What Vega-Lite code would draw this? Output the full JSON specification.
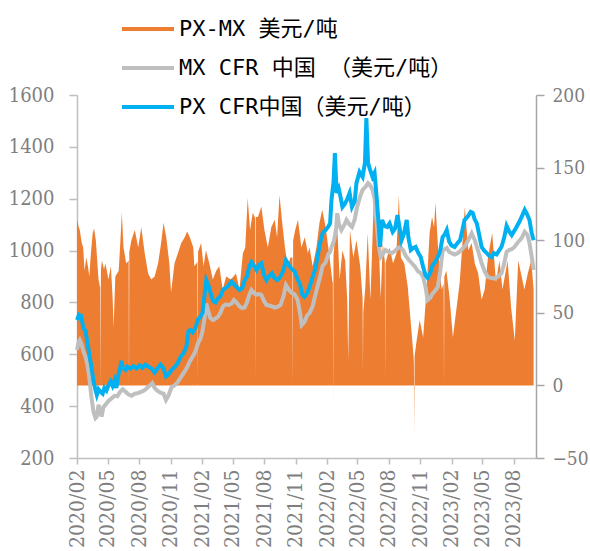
{
"$schema": "https://vega.github.io/schema/vega-lite/v6.json",
"width": 459, "height": 363,
"autosize": {"type": "none"},
"padding": {"left": 77, "top": 95, "right": 54, "bottom": 93},
"background": "white",
"config": {"view": {"stroke": null}, "axis": {"grid": false, "labelFont": "DejaVu Serif Condensed, DejaVu Serif", "labelColor": "#7f7f7f", "domainColor": "#bfbfbf", "tickColor": "#bfbfbf", "domainWidth": 1.5, "tickWidth": 1.5, "labelOverlap": false}},
"datasets": {
"spread": [
{"d":"2020-02-01","v":114},{"d":"2020-02-05","v":110},{"d":"2020-02-09","v":107},{"d":"2020-02-15","v":98},{"d":"2020-02-19","v":95},{"d":"2020-02-23","v":79},{"d":"2020-02-28","v":88},{"d":"2020-03-04","v":82},{"d":"2020-03-08","v":75},{"d":"2020-03-13","v":92},{"d":"2020-03-18","v":105},{"d":"2020-03-22","v":108},{"d":"2020-03-27","v":100},{"d":"2020-04-04","v":73},{"d":"2020-04-08","v":68},{"d":"2020-04-09","v":68},{"d":"2020-04-10","v":0},{"d":"2020-04-11","v":80},{"d":"2020-04-14","v":86},{"d":"2020-04-20","v":80},{"d":"2020-04-24","v":84},{"d":"2020-05-03","v":73},{"d":"2020-05-10","v":82},{"d":"2020-05-15","v":61},{"d":"2020-05-18","v":40},{"d":"2020-05-23","v":75},{"d":"2020-06-02","v":79},{"d":"2020-06-07","v":100},{"d":"2020-06-11","v":119},{"d":"2020-06-16","v":95},{"d":"2020-06-24","v":84},{"d":"2020-07-01","v":86},{"d":"2020-07-02","v":0},{"d":"2020-07-03","v":92},{"d":"2020-07-09","v":100},{"d":"2020-07-19","v":107},{"d":"2020-07-29","v":95},{"d":"2020-08-07","v":109},{"d":"2020-08-17","v":91},{"d":"2020-08-27","v":77},{"d":"2020-09-05","v":73},{"d":"2020-09-15","v":75},{"d":"2020-09-25","v":84},{"d":"2020-10-04","v":98},{"d":"2020-10-11","v":112},{"d":"2020-10-19","v":102},{"d":"2020-10-28","v":84},{"d":"2020-11-02","v":64},{"d":"2020-11-12","v":84},{"d":"2020-11-22","v":91},{"d":"2020-12-02","v":98},{"d":"2020-12-12","v":102},{"d":"2020-12-19","v":106},{"d":"2020-12-27","v":102},
{"d":"2021-01-06","v":95},{"d":"2021-01-09","v":82},{"d":"2021-01-18","v":85},{"d":"2021-01-19","v":0},{"d":"2021-01-20","v":92},{"d":"2021-01-29","v":98},{"d":"2021-02-05","v":82},{"d":"2021-02-12","v":93},{"d":"2021-02-22","v":84},{"d":"2021-03-04","v":73},{"d":"2021-03-14","v":79},{"d":"2021-03-23","v":82},{"d":"2021-04-02","v":66},{"d":"2021-04-12","v":75},{"d":"2021-04-26","v":73},{"d":"2021-05-11","v":77},{"d":"2021-05-21","v":66},{"d":"2021-05-31","v":91},{"d":"2021-06-07","v":95},{"d":"2021-06-14","v":129},{"d":"2021-06-21","v":107},{"d":"2021-06-29","v":119},{"d":"2021-07-06","v":115},{"d":"2021-07-07","v":0},{"d":"2021-07-08","v":116},{"d":"2021-07-14","v":116},{"d":"2021-07-24","v":123},{"d":"2021-08-02","v":107},{"d":"2021-08-12","v":95},{"d":"2021-08-22","v":109},{"d":"2021-09-01","v":114},{"d":"2021-09-08","v":102},{"d":"2021-09-15","v":131},{"d":"2021-09-23","v":112},{"d":"2021-10-01","v":95},{"d":"2021-10-09","v":82},{"d":"2021-10-17","v":88},{"d":"2021-10-23","v":88},{"d":"2021-10-24","v":0},{"d":"2021-10-25","v":100},{"d":"2021-10-31","v":107},{"d":"2021-11-08","v":114},{"d":"2021-11-18","v":95},{"d":"2021-11-28","v":102},{"d":"2021-12-07","v":91},{"d":"2021-12-12","v":95},{"d":"2021-12-21","v":82},
{"d":"2022-01-01","v":95},{"d":"2022-01-10","v":112},{"d":"2022-01-18","v":121},{"d":"2022-01-28","v":109},{"d":"2022-02-07","v":91},{"d":"2022-02-17","v":71},{"d":"2022-02-18","v":71},{"d":"2022-02-19","v":-10},{"d":"2022-02-20","v":90},{"d":"2022-02-24","v":100},{"d":"2022-03-03","v":109},{"d":"2022-03-10","v":73},{"d":"2022-03-18","v":93},{"d":"2022-03-26","v":86},{"d":"2022-04-01","v":59},{"d":"2022-04-04","v":17},{"d":"2022-04-09","v":107},{"d":"2022-04-19","v":88},{"d":"2022-04-28","v":100},{"d":"2022-05-09","v":82},{"d":"2022-05-16","v":60},{"d":"2022-05-17","v":9},{"d":"2022-05-18","v":50},{"d":"2022-05-24","v":68},{"d":"2022-05-31","v":105},{"d":"2022-06-08","v":59},{"d":"2022-06-18","v":130},{"d":"2022-06-25","v":112},{"d":"2022-07-04","v":86},{"d":"2022-07-08","v":60},{"d":"2022-07-14","v":98},{"d":"2022-07-20","v":85},{"d":"2022-07-21","v":4},{"d":"2022-07-22","v":84},{"d":"2022-08-03","v":95},{"d":"2022-08-13","v":84},{"d":"2022-08-23","v":91},{"d":"2022-08-30","v":131},{"d":"2022-09-05","v":88},{"d":"2022-09-15","v":84},{"d":"2022-09-25","v":68},{"d":"2022-10-05","v":40},{"d":"2022-10-12","v":20},{"d":"2022-10-13","v":15},{"d":"2022-10-14","v":-33},{"d":"2022-10-15","v":20},{"d":"2022-10-21","v":31},{"d":"2022-10-30","v":45},{"d":"2022-11-09","v":33},{"d":"2022-11-19","v":66},{"d":"2022-11-28","v":105},{"d":"2022-12-05","v":116},{"d":"2022-12-11","v":109},{"d":"2022-12-15","v":126},{"d":"2022-12-23","v":93},
{"d":"2023-01-02","v":66},{"d":"2023-01-08","v":70},{"d":"2023-01-09","v":0},{"d":"2023-01-10","v":75},{"d":"2023-01-16","v":79},{"d":"2023-01-25","v":61},{"d":"2023-02-04","v":33},{"d":"2023-02-14","v":52},{"d":"2023-02-24","v":71},{"d":"2023-03-06","v":105},{"d":"2023-03-11","v":123},{"d":"2023-03-21","v":93},{"d":"2023-03-31","v":98},{"d":"2023-04-09","v":84},{"d":"2023-04-19","v":77},{"d":"2023-04-29","v":59},{"d":"2023-05-08","v":66},{"d":"2023-05-18","v":89},{"d":"2023-05-30","v":105},{"d":"2023-06-10","v":71},{"d":"2023-06-20","v":86},{"d":"2023-06-29","v":66},{"d":"2023-07-14","v":86},{"d":"2023-07-24","v":54},{"d":"2023-08-04","v":31},{"d":"2023-08-14","v":86},{"d":"2023-08-24","v":75},{"d":"2023-09-01","v":66},{"d":"2023-09-11","v":77},{"d":"2023-09-21","v":86},{"d":"2023-09-28","v":66}
],
"mx": [
{"d":"2020-02-01","v":617},{"d":"2020-02-05","v":645},{"d":"2020-02-09","v":655},{"d":"2020-02-14","v":640},{"d":"2020-02-20","v":610},{"d":"2020-02-26","v":590},{"d":"2020-03-03","v":555},{"d":"2020-03-08","v":510},{"d":"2020-03-14","v":437},{"d":"2020-03-20","v":380},{"d":"2020-03-26","v":354},{"d":"2020-03-30","v":360},{"d":"2020-04-04","v":405},{"d":"2020-04-08","v":385},{"d":"2020-04-13","v":360},{"d":"2020-04-18","v":395},{"d":"2020-04-24","v":405},{"d":"2020-05-03","v":420},{"d":"2020-05-12","v":430},{"d":"2020-05-21","v":440},{"d":"2020-05-29","v":438},{"d":"2020-06-06","v":455},{"d":"2020-06-14","v":465},{"d":"2020-06-22","v":455},{"d":"2020-07-01","v":445},{"d":"2020-07-10","v":440},{"d":"2020-07-19","v":448},{"d":"2020-07-28","v":450},{"d":"2020-08-06","v":455},{"d":"2020-08-15","v":460},{"d":"2020-08-24","v":470},{"d":"2020-09-01","v":480},{"d":"2020-09-08","v":489},{"d":"2020-09-15","v":470},{"d":"2020-09-23","v":460},{"d":"2020-10-02","v":452},{"d":"2020-10-11","v":448},{"d":"2020-10-18","v":424},{"d":"2020-10-25","v":440},{"d":"2020-11-04","v":474},{"d":"2020-11-12","v":480},{"d":"2020-11-21","v":492},{"d":"2020-11-30","v":510},{"d":"2020-12-09","v":528},{"d":"2020-12-17","v":545},{"d":"2020-12-26","v":570},
{"d":"2021-01-04","v":590},{"d":"2021-01-12","v":610},{"d":"2021-01-20","v":643},{"d":"2021-01-27","v":660},{"d":"2021-02-02","v":690},{"d":"2021-02-08","v":740},{"d":"2021-02-13","v":796},{"d":"2021-02-18","v":770},{"d":"2021-02-25","v":740},{"d":"2021-03-05","v":732},{"d":"2021-03-12","v":738},{"d":"2021-03-19","v":744},{"d":"2021-03-27","v":762},{"d":"2021-04-03","v":785},{"d":"2021-04-10","v":792},{"d":"2021-04-19","v":790},{"d":"2021-04-28","v":795},{"d":"2021-05-05","v":809},{"d":"2021-05-12","v":800},{"d":"2021-05-21","v":785},{"d":"2021-05-29","v":778},{"d":"2021-06-05","v":780},{"d":"2021-06-12","v":800},{"d":"2021-06-19","v":830},{"d":"2021-06-25","v":848},{"d":"2021-07-03","v":835},{"d":"2021-07-10","v":830},{"d":"2021-07-17","v":832},{"d":"2021-07-24","v":829},{"d":"2021-08-01","v":805},{"d":"2021-08-08","v":790},{"d":"2021-08-15","v":788},{"d":"2021-08-24","v":785},{"d":"2021-08-31","v":780},{"d":"2021-09-09","v":783},{"d":"2021-09-18","v":790},{"d":"2021-09-27","v":825},{"d":"2021-10-04","v":867},{"d":"2021-10-12","v":850},{"d":"2021-10-20","v":838},{"d":"2021-10-29","v":832},{"d":"2021-11-07","v":810},{"d":"2021-11-14","v":760},{"d":"2021-11-19","v":713},{"d":"2021-11-27","v":725},{"d":"2021-12-05","v":750},{"d":"2021-12-12","v":759},{"d":"2021-12-21","v":785},{"d":"2021-12-29","v":830},
{"d":"2022-01-04","v":860},{"d":"2022-01-12","v":900},{"d":"2022-01-19","v":940},{"d":"2022-01-28","v":955},{"d":"2022-02-04","v":985},{"d":"2022-02-10","v":995},{"d":"2022-02-16","v":1020},{"d":"2022-02-22","v":1040},{"d":"2022-02-28","v":1090},{"d":"2022-03-03","v":1144},{"d":"2022-03-08","v":1100},{"d":"2022-03-15","v":1079},{"d":"2022-03-24","v":1100},{"d":"2022-03-30","v":1118},{"d":"2022-04-08","v":1100},{"d":"2022-04-15","v":1091},{"d":"2022-04-23","v":1120},{"d":"2022-04-30","v":1168},{"d":"2022-05-08","v":1205},{"d":"2022-05-16","v":1234},{"d":"2022-05-24","v":1245},{"d":"2022-06-01","v":1260},{"d":"2022-06-08","v":1250},{"d":"2022-06-14","v":1234},{"d":"2022-06-20","v":1200},{"d":"2022-06-26","v":1105},{"d":"2022-07-02","v":1020},{"d":"2022-07-08","v":975},{"d":"2022-07-14","v":985},{"d":"2022-07-22","v":1002},{"d":"2022-07-31","v":995},{"d":"2022-08-09","v":990},{"d":"2022-08-18","v":998},{"d":"2022-08-26","v":1008},{"d":"2022-09-04","v":1014},{"d":"2022-09-12","v":1000},{"d":"2022-09-20","v":978},{"d":"2022-09-28","v":965},{"d":"2022-10-07","v":951},{"d":"2022-10-15","v":940},{"d":"2022-10-25","v":920},{"d":"2022-11-02","v":913},{"d":"2022-11-09","v":898},{"d":"2022-11-16","v":860},{"d":"2022-11-22","v":809},{"d":"2022-11-30","v":818},{"d":"2022-12-07","v":835},{"d":"2022-12-14","v":845},{"d":"2022-12-22","v":860},{"d":"2022-12-29","v":920},
{"d":"2023-01-05","v":1000},{"d":"2023-01-11","v":1005},{"d":"2023-01-17","v":1010},{"d":"2023-01-24","v":995},{"d":"2023-01-31","v":990},{"d":"2023-02-09","v":985},{"d":"2023-02-18","v":990},{"d":"2023-02-27","v":1000},{"d":"2023-03-06","v":1010},{"d":"2023-03-13","v":1020},{"d":"2023-03-21","v":1040},{"d":"2023-03-31","v":1067},{"d":"2023-04-09","v":1040},{"d":"2023-04-15","v":1014},{"d":"2023-04-22","v":985},{"d":"2023-04-29","v":951},{"d":"2023-05-08","v":920},{"d":"2023-05-17","v":898},{"d":"2023-05-28","v":894},{"d":"2023-06-06","v":892},{"d":"2023-06-17","v":900},{"d":"2023-06-26","v":913},{"d":"2023-07-04","v":950},{"d":"2023-07-11","v":995},{"d":"2023-07-18","v":1002},{"d":"2023-07-26","v":1005},{"d":"2023-08-03","v":1014},{"d":"2023-08-12","v":1030},{"d":"2023-08-24","v":1048},{"d":"2023-09-02","v":1072},{"d":"2023-09-10","v":1060},{"d":"2023-09-16","v":1029},{"d":"2023-09-22","v":980},{"d":"2023-09-28","v":925}
],
"px": [
{"d":"2020-02-01","v":732},{"d":"2020-02-07","v":752},{"d":"2020-02-13","v":748},{"d":"2020-02-20","v":700},{"d":"2020-02-26","v":690},{"d":"2020-03-03","v":640},{"d":"2020-03-08","v":600},{"d":"2020-03-14","v":552},{"d":"2020-03-20","v":500},{"d":"2020-03-26","v":462},{"d":"2020-03-30","v":443},{"d":"2020-04-04","v":465},{"d":"2020-04-10","v":455},{"d":"2020-04-16","v":448},{"d":"2020-04-21","v":470},{"d":"2020-04-27","v":460},{"d":"2020-05-03","v":480},{"d":"2020-05-09","v":495},{"d":"2020-05-15","v":478},{"d":"2020-05-21","v":500},{"d":"2020-05-26","v":470},{"d":"2020-06-01","v":520},{"d":"2020-06-06","v":545},{"d":"2020-06-10","v":575},{"d":"2020-06-14","v":548},{"d":"2020-06-22","v":540},{"d":"2020-06-27","v":552},{"d":"2020-07-06","v":545},{"d":"2020-07-15","v":555},{"d":"2020-07-24","v":546},{"d":"2020-08-02","v":558},{"d":"2020-08-10","v":548},{"d":"2020-08-19","v":560},{"d":"2020-08-28","v":552},{"d":"2020-09-06","v":545},{"d":"2020-09-15","v":530},{"d":"2020-09-23","v":545},{"d":"2020-10-02","v":560},{"d":"2020-10-11","v":545},{"d":"2020-10-18","v":515},{"d":"2020-10-25","v":522},{"d":"2020-11-04","v":540},{"d":"2020-11-12","v":550},{"d":"2020-11-21","v":565},{"d":"2020-11-30","v":590},{"d":"2020-12-09","v":605},{"d":"2020-12-17","v":630},{"d":"2020-12-23","v":690},{"d":"2020-12-29","v":694},
{"d":"2021-01-04","v":685},{"d":"2021-01-12","v":700},{"d":"2021-01-20","v":735},{"d":"2021-01-27","v":745},{"d":"2021-02-02","v":760},{"d":"2021-02-08","v":830},{"d":"2021-02-13","v":886},{"d":"2021-02-18","v":870},{"d":"2021-02-25","v":840},{"d":"2021-03-05","v":805},{"d":"2021-03-12","v":800},{"d":"2021-03-19","v":815},{"d":"2021-03-27","v":825},{"d":"2021-04-03","v":850},{"d":"2021-04-10","v":855},{"d":"2021-04-19","v":865},{"d":"2021-04-28","v":880},{"d":"2021-05-05","v":870},{"d":"2021-05-12","v":860},{"d":"2021-05-21","v":848},{"d":"2021-05-29","v":855},{"d":"2021-06-05","v":885},{"d":"2021-06-12","v":900},{"d":"2021-06-19","v":940},{"d":"2021-06-25","v":956},{"d":"2021-07-03","v":940},{"d":"2021-07-10","v":925},{"d":"2021-07-17","v":945},{"d":"2021-07-24","v":951},{"d":"2021-08-01","v":905},{"d":"2021-08-08","v":886},{"d":"2021-08-15","v":900},{"d":"2021-08-24","v":912},{"d":"2021-08-31","v":895},{"d":"2021-09-09","v":886},{"d":"2021-09-18","v":900},{"d":"2021-09-27","v":925},{"d":"2021-10-04","v":963},{"d":"2021-10-12","v":945},{"d":"2021-10-20","v":930},{"d":"2021-10-29","v":920},{"d":"2021-11-07","v":890},{"d":"2021-11-14","v":870},{"d":"2021-11-21","v":830},{"d":"2021-11-27","v":822},{"d":"2021-12-05","v":835},{"d":"2021-12-12","v":860},{"d":"2021-12-21","v":898},{"d":"2021-12-29","v":930},
{"d":"2022-01-04","v":975},{"d":"2022-01-12","v":1030},{"d":"2022-01-19","v":1067},{"d":"2022-01-28","v":1080},{"d":"2022-02-04","v":1091},{"d":"2022-02-10","v":1105},{"d":"2022-02-14","v":1195},{"d":"2022-02-20","v":1264},{"d":"2022-02-24","v":1376},{"d":"2022-03-01","v":1222},{"d":"2022-03-07","v":1240},{"d":"2022-03-12","v":1210},{"d":"2022-03-18","v":1168},{"d":"2022-03-25","v":1180},{"d":"2022-03-31","v":1195},{"d":"2022-04-08","v":1222},{"d":"2022-04-15","v":1168},{"d":"2022-04-23","v":1190},{"d":"2022-04-28","v":1260},{"d":"2022-05-07","v":1303},{"d":"2022-05-16","v":1284},{"d":"2022-05-23","v":1340},{"d":"2022-05-27","v":1511},{"d":"2022-06-01","v":1337},{"d":"2022-06-07","v":1311},{"d":"2022-06-14","v":1284},{"d":"2022-06-20","v":1300},{"d":"2022-06-26","v":1207},{"d":"2022-07-02","v":1100},{"d":"2022-07-06","v":1014},{"d":"2022-07-12","v":1118},{"d":"2022-07-19","v":1095},{"d":"2022-07-27","v":1091},{"d":"2022-08-03","v":1105},{"d":"2022-08-12","v":1072},{"d":"2022-08-19","v":1085},{"d":"2022-08-26","v":1137},{"d":"2022-09-01","v":1090},{"d":"2022-09-07","v":1040},{"d":"2022-09-14","v":1065},{"d":"2022-09-22","v":1118},{"d":"2022-09-27","v":1050},{"d":"2022-10-04","v":1002},{"d":"2022-10-11","v":1010},{"d":"2022-10-18","v":1014},{"d":"2022-10-26","v":990},{"d":"2022-11-02","v":975},{"d":"2022-11-09","v":937},{"d":"2022-11-16","v":905},{"d":"2022-11-22","v":895},{"d":"2022-11-30","v":915},{"d":"2022-12-07","v":944},{"d":"2022-12-14","v":955},{"d":"2022-12-22","v":975},{"d":"2022-12-29","v":1000},
{"d":"2023-01-05","v":1052},{"d":"2023-01-11","v":1062},{"d":"2023-01-17","v":1079},{"d":"2023-01-24","v":1035},{"d":"2023-01-31","v":1020},{"d":"2023-02-09","v":1014},{"d":"2023-02-18","v":1030},{"d":"2023-02-25","v":1040},{"d":"2023-03-04","v":1080},{"d":"2023-03-10","v":1118},{"d":"2023-03-19","v":1130},{"d":"2023-03-28","v":1149},{"d":"2023-04-03","v":1145},{"d":"2023-04-09","v":1120},{"d":"2023-04-15","v":1105},{"d":"2023-04-22","v":1060},{"d":"2023-04-29","v":1014},{"d":"2023-05-06","v":1000},{"d":"2023-05-14","v":990},{"d":"2023-05-21","v":980},{"d":"2023-05-28","v":975},{"d":"2023-06-04","v":990},{"d":"2023-06-12","v":985},{"d":"2023-06-19","v":1000},{"d":"2023-06-26","v":1014},{"d":"2023-07-04","v":1050},{"d":"2023-07-11","v":1095},{"d":"2023-07-18","v":1075},{"d":"2023-07-26","v":1060},{"d":"2023-08-02","v":1075},{"d":"2023-08-09","v":1091},{"d":"2023-08-17","v":1110},{"d":"2023-08-24","v":1130},{"d":"2023-09-02","v":1157},{"d":"2023-09-09","v":1140},{"d":"2023-09-16","v":1118},{"d":"2023-09-22","v":1070},{"d":"2023-09-28","v":1040}
]
},
"encoding": {
"x": {"field": "d", "type": "temporal",
"scale": {"type": "utc", "domain": [{"year":2020,"month":2,"date":1,"utc":true},{"year":2023,"month":10,"date":5,"utc":true}]},
"axis": {"title": null, "format": "%Y/%m", "labelAngle": -90, "labelFontSize": 21, "labelOverlap": false, "labelBound": false, "labelFlush": false, "tickSize": 6, "labelPadding": 5,
"values": [{"year":2020,"month":2,"date":1,"utc":true},{"year":2020,"month":5,"date":1,"utc":true},{"year":2020,"month":8,"date":1,"utc":true},{"year":2020,"month":11,"date":1,"utc":true},{"year":2021,"month":2,"date":1,"utc":true},{"year":2021,"month":5,"date":1,"utc":true},{"year":2021,"month":8,"date":1,"utc":true},{"year":2021,"month":11,"date":1,"utc":true},{"year":2022,"month":2,"date":1,"utc":true},{"year":2022,"month":5,"date":1,"utc":true},{"year":2022,"month":8,"date":1,"utc":true},{"year":2022,"month":11,"date":1,"utc":true},{"year":2023,"month":2,"date":1,"utc":true},{"year":2023,"month":5,"date":1,"utc":true},{"year":2023,"month":8,"date":1,"utc":true}]}}
},
"layer": [
{
"data": {"name": "spread"},
"mark": {"type": "area", "interpolate": "linear", "opacity": 1},
"encoding": {
"y": {"field": "v", "type": "quantitative", "scale": {"domain": [-50, 200], "nice": false, "zero": false},
"axis": {"orient": "right", "title": null, "values": [-50,0,50,100,150,200], "format": "d", "labelFontSize": 19, "tickSize": 8, "labelPadding": 8, "domainColor": "#a6a6a6", "tickColor": "#a6a6a6"}},
"y2": {"datum": 0},
"color": {"datum": "PX-MX 美元/吨", "type": "nominal",
"scale": {"domain": ["PX-MX 美元/吨", "MX CFR 中国 （美元/吨）", "PX CFR中国（美元/吨）"], "range": ["#ED7D31", "#BFBFBF", "#00B0F0"]},
"legend": {"orient": "none", "legendX": 43, "legendY": -94, "title": null, "padding": 0, "offset": 0,
"labelFont": "DejaVu Sans Mono, Noto Sans CJK SC", "labelFontSize": 22, "labelColor": "#000000", "labelOffset": 3, "labelLimit": 0,
"symbolSize": 2704, "symbolType": "stroke", "symbolStrokeWidth": 4, "rowPadding": -10,
"encode": {"symbols": {"update": {
"shape": {"signal": "datum.value === 'PX-MX 美元/吨' ? 'M-1,-0.23H1V0.23H-1Z' : 'stroke'"},
"fill": {"signal": "datum.value === 'PX-MX 美元/吨' ? '#ED7D31' : 'transparent'"},
"stroke": {"signal": "datum.value === 'PX-MX 美元/吨' ? 'transparent' : scale('color', datum.value)"},
"opacity": {"value": 1}
}}}}
}
}
},
{
"layer": [
{"data": {"name": "mx"}, "mark": {"type": "line", "strokeWidth": 4, "interpolate": "linear"},
"encoding": {"y": {"field": "v", "type": "quantitative"}, "color": {"datum": "MX CFR 中国 （美元/吨）", "type": "nominal"}}},
{"data": {"name": "px"}, "mark": {"type": "line", "strokeWidth": 4, "interpolate": "linear"},
"encoding": {"y": {"field": "v", "type": "quantitative"}, "color": {"datum": "PX CFR中国（美元/吨）", "type": "nominal"}}}
],
"encoding": {
"y": {"field": "v", "type": "quantitative", "scale": {"domain": [200, 1600], "nice": false, "zero": false},
"axis": {"orient": "left", "title": null, "values": [200,400,600,800,1000,1200,1400,1600], "format": "d", "labelFontSize": 20, "tickSize": 8, "labelPadding": 15}}
}
}
],
"resolve": {"scale": {"y": "independent"}}
}
